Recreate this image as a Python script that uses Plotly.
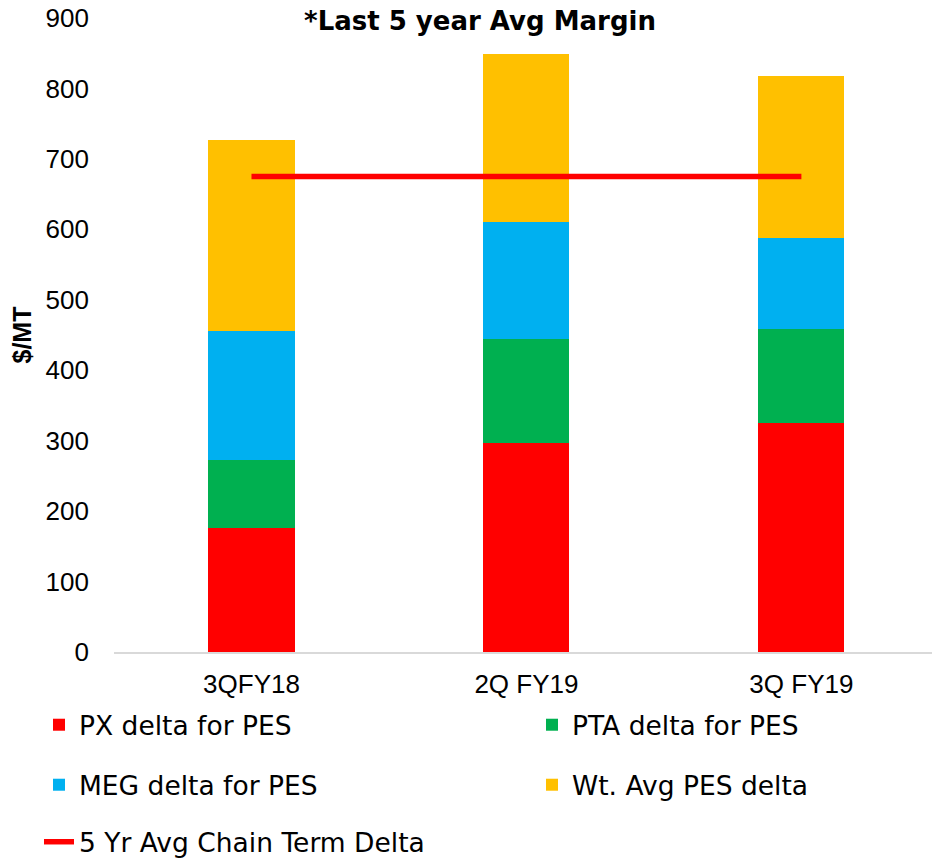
import plotly.graph_objects as go

categories = ["3QFY18", "2Q FY19", "3Q FY19"]
px_delta = [176, 297, 325]
pta_delta = [96, 148, 134]
meg_delta = [183, 165, 129]
wt_avg_delta = [272, 239, 230]
five_yr_avg = [675, 675, 675]
y_ticks = [0, 100, 200, 300, 400, 500, 600, 700, 800, 900]

W, H = 932, 859
L, T, B = 114, 18, 207

fig = go.Figure()
bar_specs = [
    ("PX delta for PES", px_delta, "#FF0000", "legend"),
    ("PTA delta for PES", pta_delta, "#00B050", "legend2"),
    ("MEG delta for PES", meg_delta, "#00B0F0", "legend3"),
    ("Wt. Avg PES delta", wt_avg_delta, "#FFC000", "legend4"),
]
for name, vals, col, lg in bar_specs:
    fig.add_trace(go.Bar(x=categories, y=vals, name=name, marker=dict(color=col, line=dict(width=0)),
                         legend=lg, showlegend=True))
fig.add_trace(go.Scatter(x=categories, y=five_yr_avg, name="5 Yr Avg Chain Term Delta", mode="lines",
                         line=dict(color="#FF0000", width=5.5), legend="legend5", showlegend=True))

leg_common = dict(orientation="h", xref="container", yref="container", xanchor="left",
                  yanchor="middle", font=dict(family="DejaVu Sans", size=26.5, color="#000000"),
                  bgcolor="rgba(0,0,0,0)", borderwidth=0)
col1, col2 = 39 / W, 532 / W
row1, row2, row3 = 1 - 725 / H, 1 - 785 / H, 1 - 842 / H

fig.update_layout(
    width=W, height=H,
    showlegend=True,
    margin=dict(l=L, r=0, t=T, b=B, autoexpand=False),
    paper_bgcolor="white", plot_bgcolor="white",
    barmode="stack", bargap=0.687,
    title=dict(text="<b>*Last 5 year Avg Margin</b>", x=0.515, xanchor="center", xref="container",
               y=1 - 21 / H, yanchor="middle", yref="container",
               font=dict(family="DejaVu Sans", size=26, color="#000000")),
    legend=dict(**leg_common, x=col1, y=row1),
    legend2=dict(**leg_common, x=col2, y=row1),
    legend3=dict(**leg_common, x=col1, y=row2),
    legend4=dict(**leg_common, x=col2, y=row2),
    legend5=dict(**leg_common, x=col1, y=row3),
    xaxis=dict(type="category", range=[-0.5, 2.475], showgrid=False, showline=True,
               linecolor="#D9D9D9", linewidth=2, ticks="", automargin=False,
               tickfont=dict(family="Liberation Sans, Arial", size=26, color="#000000"),
               ticklabelstandoff=8),
    yaxis=dict(range=[0, 900], tickvals=y_ticks, showgrid=False, showline=False, zeroline=False,
               ticks="", automargin=False,
               tickfont=dict(family="Liberation Sans, Arial", size=26, color="#000000"),
               ticklabelstandoff=24,
               title=dict(text="<b>$/MT</b>", standoff=6,
                          font=dict(family="Liberation Sans, Arial", size=25, color="#000000"))),
)

fig.write_html("out.html", config={"displayModeBar": False},
               post_script="document.body.style.margin='0px';")
